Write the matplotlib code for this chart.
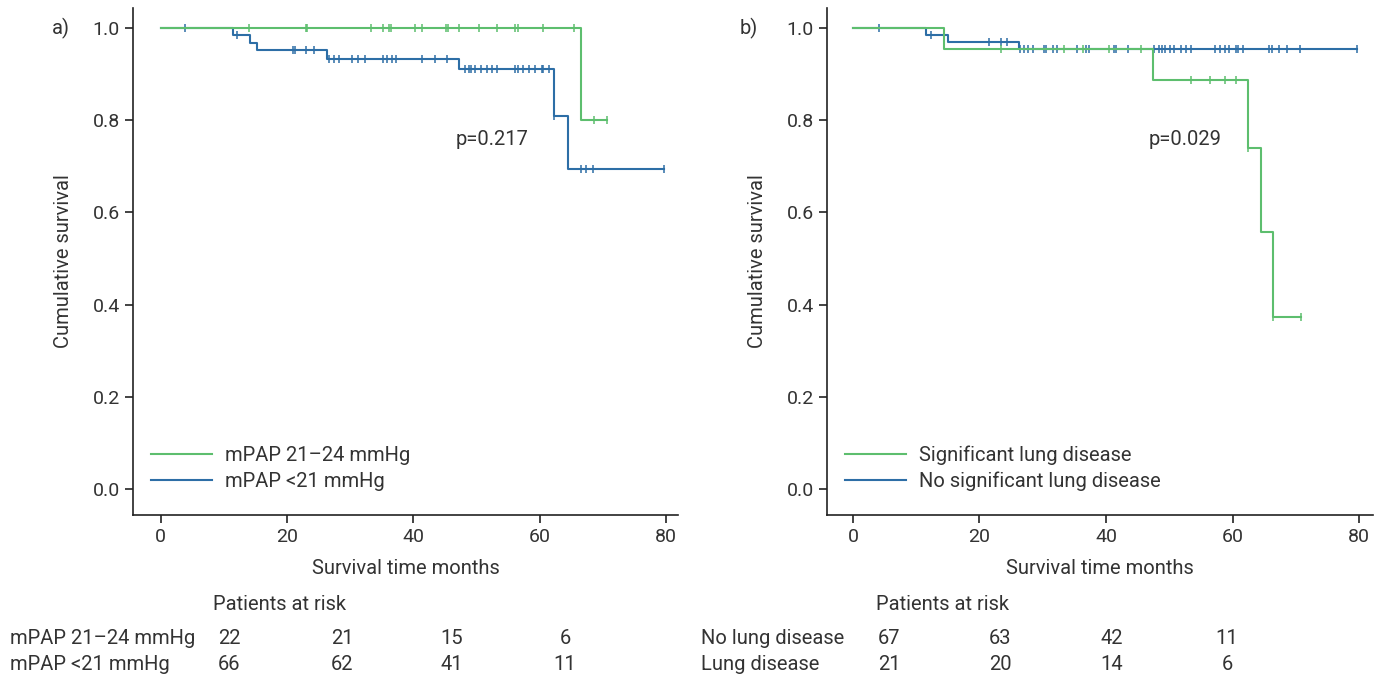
import numpy as np
import matplotlib
matplotlib.use("Agg")
import matplotlib.pyplot as plt

plt.rcParams['font.family'] = ['Roboto', 'DejaVu Sans']

GREEN = '#5dbe6e'
BLUE = '#2d6ea6'

# ---- panel a : mPAP groups ----
a_hi_steps_t = [0, 66.5, 70.7]
a_hi_steps_s = [1.0, 0.80, 0.80]
a_hi_cens = [13.9, 23.0, 23.2, 33.3, 35.2, 36.2, 36.4, 40.2, 41.4, 45.1, 45.5,
             47.3, 50.4, 53.3, 56.1, 56.5, 60.5, 65.5, 68.6, 70.7]

a_lo_steps_t = [0, 11.5, 14.1, 15.3, 26.3, 47.3, 62.2, 64.5, 79.7]
a_lo_steps_s = [1.0, 0.985, 0.968, 0.953, 0.933, 0.910, 0.808, 0.694, 0.694]
a_lo_cens = [3.8, 12.0, 21.0, 21.3, 23.0, 24.2, 26.7, 27.4, 28.2, 30.2, 31.3,
             32.3, 35.2, 35.8, 36.6, 37.3, 41.4, 43.4, 45.4, 48.2, 48.8, 49.1,
             49.8, 50.7, 51.6, 52.5, 53.3, 56.1, 56.5, 57.4, 58.3, 59.3, 60.3,
             60.6, 61.4, 62.2, 66.5, 67.3, 68.5, 79.7]

# ---- panel b : lung disease ----
b_lung_steps_t = [0, 14.4, 47.5, 62.5, 64.5, 66.4, 70.8]
b_lung_steps_s = [1.0, 0.955, 0.887, 0.740, 0.558, 0.373, 0.373]
b_lung_cens = [23.4, 33.4, 36.4, 40.5, 45.6, 53.4, 56.4, 58.8, 60.6, 62.5,
               66.4, 70.8]

b_none_steps_t = [0, 11.6, 15.1, 26.2, 79.6]
b_none_steps_s = [1.0, 0.985, 0.970, 0.955, 0.955]
b_none_cens = [4.1, 12.3, 21.5, 23.4, 24.3, 26.4, 27.1, 27.7, 28.4, 30.2, 30.5,
               31.6, 32.3, 35.4, 36.8, 37.3, 41.3, 41.5, 43.5, 47.6, 48.3, 48.8,
               49.4, 50.1, 50.7, 51.8, 52.6, 53.4, 57.2, 58.0, 58.8, 59.5, 60.5,
               60.9, 61.6, 65.7, 66.2, 67.3, 68.6, 70.6, 79.6]

risk_a_labels = ['mPAP 21\u201324 mmHg', 'mPAP <21 mmHg']
risk_a = [[22, 21, 15, 6], [66, 62, 41, 11]]
risk_b_labels = ['No lung disease', 'Lung disease']
risk_b = [[67, 63, 42, 11], [21, 20, 14, 6]]

FS = 14.5
TXT = '#333333'


def km(ax, t, s, cens, color, label):
    ax.step(t, s, where='post', color=color, lw=1.5, label=label)
    idx = np.searchsorted(t, cens, side='right') - 1
    ax.plot(cens, np.array(s)[idx], ls='none', marker='|', ms=6, mew=1.1,
            color=color)


fig = plt.figure(figsize=(13.83, 6.75), dpi=100)
ax1 = fig.add_axes([133/1383, 160/675, 545/1383, 507/675])
ax2 = fig.add_axes([827/1383, 160/675, 546/1383, 507/675])

km(ax1, a_lo_steps_t, a_lo_steps_s, a_lo_cens, BLUE, 'mPAP <21 mmHg')
km(ax1, a_hi_steps_t, a_hi_steps_s, a_hi_cens, GREEN, 'mPAP 21\u201324 mmHg')
km(ax2, b_none_steps_t, b_none_steps_s, b_none_cens, BLUE, 'No significant lung disease')
km(ax2, b_lung_steps_t, b_lung_steps_s, b_lung_cens, GREEN, 'Significant lung disease')

for ax, xl, p in [(ax1, (-4.4, 81.9), 'p=0.217'), (ax2, (-4.1, 82.2), 'p=0.029')]:
    ax.set_xlim(*xl)
    ax.set_ylim(-0.056, 1.043)
    ax.set_xticks([0, 20, 40, 60, 80])
    ax.set_yticks([0.0, 0.2, 0.4, 0.6, 0.8, 1.0])
    ax.set_yticklabels(['0.0', '0.2', '0.4', '0.6', '0.8', '1.0'])
    ax.spines['top'].set_visible(False)
    ax.spines['right'].set_visible(False)
    for sp in ('left', 'bottom'):
        ax.spines[sp].set_linewidth(1.2)
        ax.spines[sp].set_color('#222222')
    ax.tick_params(labelsize=14, length=6, width=1.2, colors='#222222',
                   labelcolor=TXT)
    ax.set_xlabel('Survival time months', fontsize=FS, color=TXT, labelpad=9)
    ax.set_ylabel('Cumulative survival', fontsize=FS, color=TXT, labelpad=14)
    ax.text(46.7, 0.757, p, fontsize=FS, color=TXT, va='center')
    h, l = ax.get_legend_handles_labels()
    ax.legend(h[::-1], l[::-1], loc='lower left', bbox_to_anchor=(0.0, 0.012),
              frameon=False, fontsize=FS, handlelength=3.0, labelspacing=0.33,
              handletextpad=0.65, labelcolor=TXT)

fig.text(52/1383, 1 - 28/675, 'a)', fontsize=FS, color=TXT, va='center')
fig.text(740/1383, 1 - 28/675, 'b)', fontsize=FS, color=TXT, va='center')

# patients at risk tables
for labels, rows, x_lab, x_head, xs in [
        (risk_a_labels, risk_a, 10, 213, [229, 342, 452, 565]),
        (risk_b_labels, risk_b, 701, 876, [889, 1000, 1112, 1227])]:
    fig.text(x_head/1383, 1 - 605/675, 'Patients at risk', fontsize=FS,
             color=TXT, va='center')
    for r, (lab, vals) in enumerate(zip(labels, rows)):
        y = 1 - (639 + 25*r)/675
        fig.text(x_lab/1383, y, lab, fontsize=FS, color=TXT, va='center')
        for x, v in zip(xs, vals):
            fig.text(x/1383, y, str(v), fontsize=FS, color=TXT,
                     va='center', ha='center')

fig.savefig('out.png', dpi=100)
